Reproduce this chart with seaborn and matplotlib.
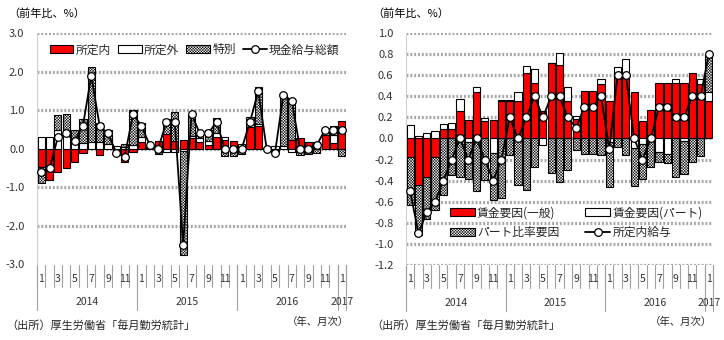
import numpy as np
import matplotlib
matplotlib.use("Agg")
import matplotlib.pyplot as plt
import matplotlib.transforms as mtransforms
from matplotlib.patches import Patch
from matplotlib.lines import Line2D
import seaborn as sns

# ---------------- data ----------------
month_labels = (["1", "", "3", "", "5", "", "7", "", "9", "", "11", ""] * 3) + ["1"]
year_labels = ["2014", "2015", "2016", "2017"]
year_centers = [5.5, 17.5, 29.5, 36]

# left chart: 現金給与総額 contributions
L_regular = [-0.48, -0.80, -0.61, -0.50, -0.35, -0.10, 0.00, -0.15, 0.00, -0.05, -0.33, -0.09,
             0.17, 0.02, 0.20, 0.38, 0.20, 0.22, 0.28, 0.17, 0.10, 0.30, 0.22, 0.20,
             -0.02, 0.56, 0.60, 0.02, -0.05, 0.00, 0.22, 0.28, 0.17, 0.15, 0.35, 0.15, 0.72]
L_overtime = [0.30, 0.30, 0.48, 0.50, 0.26, 0.15, 0.17, 0.17, 0.13, 0.08, 0.05, 0.10,
              0.15, 0.04, -0.05, -0.07, -0.07, -0.05, 0.05, 0.12, 0.10, 0.10, 0.10, 0.00,
              0.12, 0.08, 0.04, 0.00, 0.08, 0.08, -0.07, -0.05, -0.03, 0.03, 0.05, 0.20, 0.00]
L_special = [-0.40, 0.00, 0.41, 0.41, 0.23, 0.63, 1.96, 0.51, 0.35, -0.10, 0.08, 0.90,
             0.35, 0.04, -0.08, 0.40, 0.77, -2.70, 0.55, 0.10, 0.28, 0.40, -0.18, -0.18,
             -0.12, 0.19, 0.97, 0.00, -0.05, 1.33, 1.08, -0.10, -0.10, -0.10, 0.10, 0.25, -0.18]
L_total = [-0.6, -0.5, 0.3, 0.4, 0.2, 0.6, 1.9, 0.6, 0.4, -0.1, -0.2, 0.9,
           0.6, 0.1, 0.0, 0.7, 0.7, -2.5, 0.9, 0.4, 0.4, 0.7, 0.0, 0.0,
           0.0, 0.7, 1.5, 0.0, -0.1, 1.4, 1.25, 0.0, 0.0, 0.1, 0.5, 0.5, 0.5]

# right chart: 所定内給与 contributions
R_general = [-0.18, -0.44, -0.365, -0.18, 0.09, 0.09, 0.26, 0.175, 0.44, 0.17, 0.175, 0.355,
             0.355, 0.355, 0.625, 0.53, 0.26, 0.715, 0.70, 0.355, 0.18, 0.45, 0.45, 0.52,
             0.355, 0.62, 0.57, 0.445, 0.17, 0.27, 0.53, 0.53, 0.53, 0.53, 0.625, 0.52, 0.355]
R_part_wage = [0.13, 0.02, 0.055, 0.07, 0.05, 0.06, 0.11, -0.03, 0.05, 0.02, -0.14, 0.005,
               0.005, 0.085, 0.065, 0.13, -0.06, 0.005, 0.11, 0.135, 0.03, 0.0, 0.0, 0.04,
               -0.03, 0.06, 0.185, -0.095, -0.05, 0.0, -0.125, -0.15, 0.03, -0.02, 0.0, 0.04, 0.09]
R_part_ratio = [-0.45, -0.48, -0.40, -0.50, -0.54, -0.35, -0.37, -0.35, -0.50, -0.39, -0.44, -0.56,
                -0.16, -0.44, -0.49, -0.27, 0.0, -0.33, -0.41, -0.30, -0.11, -0.15, -0.15, -0.16,
                -0.43, -0.08, -0.16, -0.36, -0.33, -0.27, -0.10, -0.08, -0.365, -0.32, -0.22, -0.165, 0.36]
R_scheduled = [-0.5, -0.9, -0.7, -0.6, -0.4, -0.2, 0.0, -0.2, 0.0, -0.2, -0.4, -0.2,
               0.2, 0.0, 0.2, 0.4, 0.2, 0.4, 0.4, 0.2, 0.1, 0.3, 0.3, 0.4,
               -0.1, 0.6, 0.6, 0.0, -0.2, 0.0, 0.3, 0.3, 0.2, 0.2, 0.4, 0.4, 0.8]

L_names = ["所定内", "所定外", "特別", "現金給与総額"]
R_names = ["賃金要因(一般)", "賃金要因(パート)", "パート比率要因", "所定内給与"]

# ---------------- style ----------------
sns.set_theme(style="white")
plt.rcParams['font.family'] = ['Noto Sans CJK JP', 'DejaVu Sans']
plt.rcParams['hatch.linewidth'] = 0.35
plt.rcParams['hatch.color'] = 'black'

RED = '#ff0000'
HATCH = 'x' * 12
GRID = '#a6a6a6'
TXT = '#333333'

styles = [dict(facecolor=RED, edgecolor='black'),
          dict(facecolor='white', edgecolor='black'),
          dict(facecolor='white', edgecolor='black', hatch=HATCH)]

fig = plt.figure(figsize=(7.24, 3.40), dpi=100)
axL = fig.add_axes([37 / 724, 1 - 264.5 / 340, 309 / 724, 231.2 / 340])
axR = fig.add_axes([406 / 724, 1 - 265 / 340, 307 / 724, 232 / 340])


def stacked(ax, series):
    n = len(series[0])
    x = np.arange(n)
    pos = np.zeros(n)
    neg = np.zeros(n)
    for vals, st in zip(series, styles):
        v = np.asarray(vals, dtype=float)
        bottom = np.where(v >= 0, pos, neg)
        m = v != 0
        ax.bar(x[m], v[m], bottom=bottom[m], width=0.86, linewidth=0.8, zorder=3, **st)
        pos = pos + np.where(v > 0, v, 0)
        neg = neg + np.where(v < 0, v, 0)


def line(ax, vals):
    sns.lineplot(x=np.arange(len(vals)), y=vals, ax=ax, color='black', lw=1.3,
                 marker='o', markersize=5.5, markerfacecolor='white',
                 markeredgecolor='black', markeredgewidth=0.9, zorder=5, legend=False)


def style_axis(ax, ylim, yticks, gridticks):
    ax.set_xlim(-0.5, 36.5)
    ax.set_ylim(*ylim)
    ax.set_yticks(yticks)
    ax.set_yticklabels([f"{t:.1f}" for t in yticks], fontsize=8, color=TXT)
    ax.tick_params(axis='y', length=0, pad=9)
    ax.set_xticks([])
    ax.set_xlabel("")
    ax.set_ylabel("")
    for s in ['top', 'right', 'bottom']:
        ax.spines[s].set_visible(False)
    ax.spines['left'].set_color('#d0d0d0')
    ax.spines['left'].set_linewidth(0.8)
    for t in gridticks:
        ax.axhline(t, color=GRID, lw=2.3, linestyle=(0, (0.6, 0.6)), zorder=1)
    ax.axhline(ylim[0], color='#bfbfbf', lw=0.8, zorder=1)
    trans = mtransforms.blended_transform_factory(ax.transData, ax.transAxes)
    for i, lab in enumerate(month_labels):
        if lab:
            ax.text(i, -0.062, lab, transform=trans, ha='center', va='center',
                    fontsize=7.5, color=TXT)
    for b in np.arange(-0.5, 37, 1.0):
        ax.plot([b, b], [0, -0.098], transform=trans, color='#a0a0a0', lw=0.8,
                clip_on=False, zorder=1)
    for b in [-0.5, 11.5, 23.5, 35.5, 36.5]:
        ax.plot([b, b], [0, -0.197], transform=trans, color='#a0a0a0', lw=0.8,
                clip_on=False, zorder=1)
    for c, lab in zip(year_centers, year_labels):
        ax.text(c, -0.162, lab, transform=trans, ha='center', va='center',
                fontsize=7.5, color=TXT)


# ---------------- left chart ----------------
style_axis(axL, (-3, 3), [3, 2, 1, 0, -1, -2, -3], [3, 2, 1, 0, -1, -2])
stacked(axL, [L_regular, L_overtime, L_special])
line(axL, L_total)

line_handle = Line2D([], [], color='black', lw=1.3, marker='o', markersize=5.5,
                     markerfacecolor='white', markeredgecolor='black', markeredgewidth=0.9)
hL = [Patch(linewidth=0.8, **styles[0]), Patch(linewidth=0.8, **styles[1]),
      Patch(linewidth=0.8, **styles[2]), line_handle]
axL.legend(hL, L_names, ncol=4, loc='center', bbox_to_anchor=(0.51, 0.928),
           frameon=False, fontsize=8.5, handlelength=2.0, handletextpad=0.2,
           columnspacing=0.6, borderaxespad=0, borderpad=0)

# ---------------- right chart ----------------
rticks = [1.0, 0.8, 0.6, 0.4, 0.2, 0.0, -0.2, -0.4, -0.6, -0.8, -1.0, -1.2]
style_axis(axR, (-1.2, 1.0), rticks, rticks)
stacked(axR, [R_general, R_part_wage, R_part_ratio])
line(axR, R_scheduled)

hR = [Patch(linewidth=0.8, **styles[0]), Patch(linewidth=0.8, **styles[2]),
      Patch(linewidth=0.8, **styles[1]), line_handle]
labR = [R_names[0], R_names[2], R_names[1], R_names[3]]
axR.legend(hR, labR, ncol=2, loc='center', bbox_to_anchor=(0.555, 0.183),
           frameon=False, fontsize=8.5, handlelength=2.1, handletextpad=0.2,
           columnspacing=2.2, labelspacing=0.55, borderaxespad=0, borderpad=0)

# ---------------- texts ----------------
fig.text(8 / 724, 1 - 14 / 340, "（前年比、%）", fontsize=8, va='center', ha='left', color='black')
fig.text(372 / 724, 1 - 14 / 340, "（前年比、%）", fontsize=8, va='center', ha='left', color='black')
fig.text(6 / 724, 1 - 325 / 340, "（出所）厚生労働省「毎月勤労統計」", fontsize=8, va='center', ha='left')
fig.text(371 / 724, 1 - 325 / 340, "（出所）厚生労働省「毎月勤労統計」", fontsize=8, va='center', ha='left')
fig.text(349 / 724, 1 - 322 / 340, "（年、月次）", fontsize=7.5, va='center', ha='right')
fig.text(712 / 724, 1 - 322 / 340, "（年、月次）", fontsize=7.5, va='center', ha='right')

fig.savefig("out.png", dpi=100)
